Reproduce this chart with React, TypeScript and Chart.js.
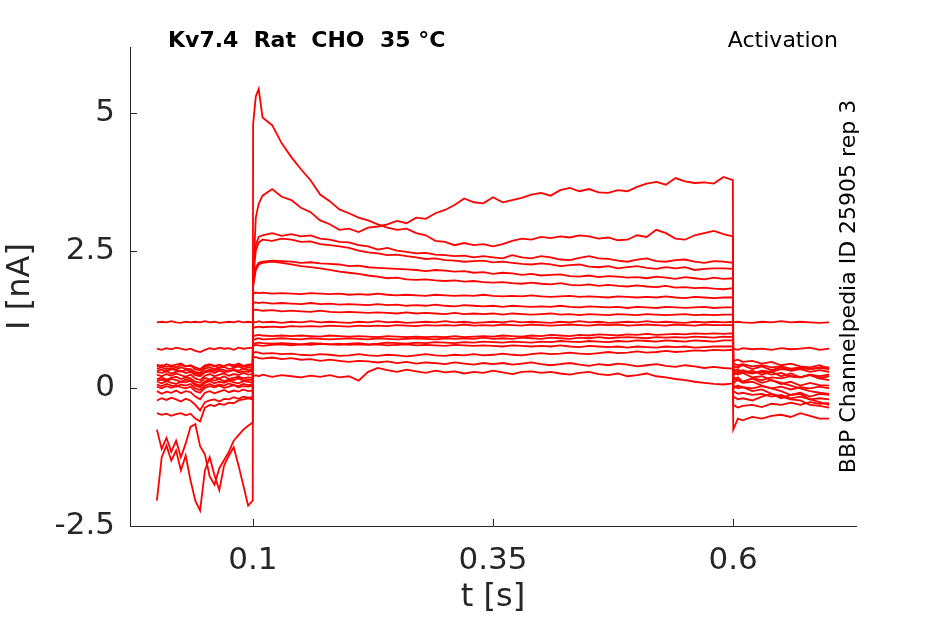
import React, { useEffect, useRef } from 'react';
import { Chart, registerables } from 'chart.js';

Chart.register(...registerables);

// time base (s): before step, during step, after step
const tPre = [0, 0.005, 0.01, 0.015, 0.02, 0.025, 0.03, 0.035, 0.04, 0.045, 0.05, 0.055, 0.06, 0.065, 0.07, 0.075, 0.08, 0.085, 0.09, 0.095, 0.0998];
const tPulse = [
  0.1002, 0.103, 0.106,
  0.11, 0.12, 0.13, 0.14, 0.15, 0.16, 0.17, 0.18, 0.19, 0.2,
  0.21, 0.22, 0.23, 0.24, 0.25, 0.26, 0.27, 0.28, 0.29, 0.3,
  0.31, 0.32, 0.33, 0.34, 0.35, 0.36, 0.37, 0.38, 0.39, 0.4,
  0.41, 0.42, 0.43, 0.44, 0.45, 0.46, 0.47, 0.48, 0.49, 0.5,
  0.51, 0.52, 0.53, 0.54, 0.55, 0.56, 0.57, 0.58, 0.59,
  0.5998,
];
const tPost = [0.6002, 0.605, 0.61, 0.62, 0.63, 0.64, 0.65, 0.66, 0.67, 0.68, 0.69, 0.7];

// current (nA), one row per sweep
const preSweeps = [
  [-2.04, -1.25, -1.04, -1.31, -1.13, -1.49, -1.22, -1.67, -2.04, -2.22, -1.49, -1.25, -1.58, -1.85, -1.4, -1.22, -1.07, -1.4, -1.76, -2.13, -2.04],
  [-0.75, -1.1, -0.9, -1.15, -0.95, -1.25, -1.0, -0.7, -0.65, -1.05, -1.2, -1.6, -1.75, -1.45, -1.3, -1.15, -0.95, -0.85, -0.75, -0.68, -0.62],
  [-0.45, -0.48, -0.46, -0.5, -0.47, -0.45, -0.49, -0.46, -0.55, -0.6, -0.35, -0.3, -0.32, -0.28, -0.3, -0.26, -0.27, -0.22, -0.2, -0.18, -0.2],
  [-0.22, -0.18, -0.21, -0.17, -0.2, -0.24, -0.19, -0.22, -0.3, -0.4, -0.25, -0.22, -0.2, -0.24, -0.19, -0.2, -0.16, -0.19, -0.15, -0.17, -0.16],
  [-0.05, -0.1, -0.06, -0.08, -0.04, -0.09, -0.05, -0.07, -0.15, -0.2, -0.08, -0.05, -0.09, -0.06, -0.03, -0.07, -0.04, -0.06, -0.02, -0.05, -0.04],
  [0.03, 0.0, 0.04, 0.01, 0.05, 0.02, 0.0, 0.03, -0.05, -0.08, 0.01, 0.04, 0.02, 0.05, 0.01, 0.03, 0.06, 0.02, 0.04, 0.03, 0.05],
  [0.12, 0.09, 0.13, 0.1, 0.08, 0.12, 0.11, 0.14, 0.05, 0.02, 0.1, 0.13, 0.09, 0.12, 0.1, 0.14, 0.11, 0.09, 0.13, 0.12, 0.1],
  [0.17, 0.2, 0.16, 0.19, 0.21, 0.17, 0.2, 0.18, 0.12, 0.1, 0.19, 0.16, 0.2, 0.18, 0.22, 0.17, 0.19, 0.21, 0.18, 0.2, 0.19],
  [0.25, 0.22, 0.26, 0.23, 0.27, 0.24, 0.21, 0.25, 0.18, 0.15, 0.23, 0.26, 0.22, 0.25, 0.27, 0.23, 0.26, 0.24, 0.28, 0.25, 0.26],
  [1.2, 1.21, 1.2, 1.22, 1.2, 1.19, 1.21, 1.2, 1.21, 1.2, 1.22, 1.2, 1.21, 1.19, 1.2, 1.21, 1.2, 1.22, 1.2, 1.21, 1.2],
  [0.3, 0.28, 0.31, 0.27, 0.3, 0.32, 0.28, 0.3, 0.24, 0.22, 0.29, 0.31, 0.28, 0.32, 0.29, 0.31, 0.33, 0.29, 0.31, 0.3, 0.32],
  [0.36, 0.38, 0.35, 0.37, 0.34, 0.38, 0.36, 0.35, 0.3, 0.28, 0.36, 0.38, 0.35, 0.37, 0.39, 0.35, 0.37, 0.4, 0.36, 0.38, 0.37],
  [0.43, 0.4, 0.44, 0.41, 0.43, 0.45, 0.4, 0.42, 0.38, 0.35, 0.42, 0.44, 0.41, 0.43, 0.4, 0.44, 0.42, 0.45, 0.41, 0.43, 0.44],
  [0.32, 0.34, 0.31, 0.35, 0.33, 0.3, 0.34, 0.32, 0.27, 0.25, 0.31, 0.34, 0.32, 0.35, 0.33, 0.31, 0.34, 0.32, 0.36, 0.33, 0.34],
  [0.72, 0.7, 0.73, 0.71, 0.74, 0.72, 0.7, 0.72, 0.68, 0.66, 0.7, 0.73, 0.71, 0.74, 0.72, 0.73, 0.7, 0.74, 0.72, 0.73, 0.74],
  [0.14, 0.16, 0.13, 0.17, 0.15, 0.12, 0.16, 0.14, 0.08, 0.05, 0.13, 0.16, 0.14, 0.17, 0.13, 0.16, 0.15, 0.18, 0.14, 0.16, 0.15],
  [0.07, 0.04, 0.08, 0.05, 0.03, 0.07, 0.05, 0.08, 0.0, -0.03, 0.05, 0.08, 0.04, 0.07, 0.05, 0.09, 0.06, 0.04, 0.08, 0.06, 0.07],
  [0.4, 0.42, 0.39, 0.41, 0.38, 0.42, 0.4, 0.41, 0.35, 0.33, 0.39, 0.42, 0.4, 0.38, 0.41, 0.43, 0.39, 0.42, 0.4, 0.41, 0.42],
];

const pulseSweeps = [
  [2.0, 3.1, 3.35,
    3.5, 3.62, 3.48, 3.42, 3.28, 3.2, 3.05, 2.98, 2.88, 2.9,
    2.84, 2.92, 2.94, 2.98, 3.04, 3.0, 3.1, 3.08, 3.18, 3.24,
    3.33, 3.45, 3.38, 3.36, 3.47, 3.38, 3.42, 3.46, 3.52, 3.55,
    3.5, 3.6, 3.64, 3.58, 3.62, 3.56, 3.55, 3.6, 3.58, 3.66,
    3.72, 3.75, 3.7, 3.82, 3.76, 3.73, 3.74, 3.72, 3.84,
    3.78],
  [4.8, 5.3, 5.44,
    4.92, 4.78, 4.45, 4.2, 3.98, 3.78, 3.52, 3.4, 3.25, 3.18,
    3.1, 3.05, 2.98, 2.92, 2.88, 2.9, 2.82, 2.78, 2.68, 2.66,
    2.6, 2.64, 2.6, 2.62, 2.58, 2.62, 2.68, 2.72, 2.7, 2.75,
    2.73, 2.76, 2.74, 2.78, 2.76, 2.72, 2.74, 2.69, 2.7, 2.78,
    2.75, 2.88, 2.82, 2.72, 2.7, 2.78, 2.82, 2.86, 2.8,
    2.76],
  [2.2, 2.6, 2.75,
    2.78, 2.82, 2.77, 2.8, 2.76, 2.78, 2.72, 2.7, 2.66, 2.65,
    2.6, 2.58, 2.52, 2.55, 2.5, 2.48, 2.45, 2.46, 2.43, 2.42,
    2.4, 2.41, 2.38, 2.4, 2.38, 2.36, 2.42, 2.38, 2.36, 2.4,
    2.38, 2.34, 2.33, 2.37, 2.4, 2.36, 2.35, 2.32, 2.3, 2.34,
    2.36, 2.31, 2.3, 2.33, 2.34, 2.3, 2.28, 2.31, 2.3,
    2.28],
  [2.0, 2.5, 2.65,
    2.7, 2.68, 2.72, 2.7, 2.66, 2.67, 2.62, 2.6, 2.58, 2.55,
    2.5, 2.47, 2.45, 2.42, 2.43, 2.4, 2.38, 2.35, 2.36, 2.33,
    2.32, 2.3, 2.31, 2.32, 2.29, 2.3, 2.28, 2.26, 2.25, 2.27,
    2.25, 2.22, 2.24, 2.25, 2.21, 2.2, 2.22, 2.18, 2.2, 2.22,
    2.19, 2.17, 2.2, 2.18, 2.2, 2.15, 2.17, 2.18, 2.18,
    2.17],
  [1.9, 2.2, 2.28,
    2.3, 2.32, 2.31, 2.3, 2.28, 2.29, 2.27, 2.26, 2.25, 2.22,
    2.23, 2.2, 2.19, 2.18, 2.17, 2.16, 2.15, 2.13, 2.15, 2.14,
    2.12, 2.13, 2.1, 2.11, 2.08, 2.1, 2.09, 2.06, 2.08, 2.05,
    2.06, 2.07, 2.04, 2.03, 2.05, 2.02, 2.04, 2.03, 2.01, 2.02,
    2.0, 2.03, 2.01, 1.99, 2.02, 2.0, 1.98, 2.01, 1.99,
    2.0],
  [1.85, 2.15, 2.25,
    2.28, 2.3, 2.28, 2.25, 2.22, 2.2, 2.18, 2.15, 2.12, 2.1,
    2.08, 2.05, 2.03, 2.0, 2.01, 1.98, 1.97, 1.98, 1.96, 1.95,
    1.96, 1.94, 1.95, 1.93, 1.92, 1.93, 1.91, 1.9, 1.92, 1.9,
    1.89, 1.91, 1.88, 1.87, 1.89, 1.86, 1.88, 1.86, 1.85, 1.87,
    1.85, 1.84, 1.86, 1.83, 1.84, 1.82, 1.83, 1.81, 1.8,
    1.82],
  [1.72, 1.74, 1.73,
    1.74, 1.72, 1.73, 1.72, 1.71, 1.73, 1.72, 1.71, 1.72, 1.7,
    1.71, 1.7, 1.72, 1.7, 1.69, 1.7, 1.69, 1.68, 1.7, 1.69,
    1.68, 1.69, 1.68, 1.7, 1.68, 1.67, 1.68, 1.67, 1.69, 1.67,
    1.66, 1.67, 1.68, 1.66, 1.67, 1.66, 1.65, 1.67, 1.66, 1.65,
    1.66, 1.65, 1.67, 1.65, 1.64, 1.66, 1.65, 1.64, 1.65,
    1.65],
  [1.55, 1.56, 1.55,
    1.56, 1.54, 1.55, 1.54, 1.53, 1.55, 1.53, 1.54, 1.52, 1.53,
    1.52, 1.51, 1.53, 1.51, 1.52, 1.5, 1.51, 1.5, 1.52, 1.5,
    1.49, 1.51, 1.5, 1.49, 1.5, 1.48, 1.5, 1.49, 1.48, 1.49,
    1.48, 1.5, 1.48, 1.47, 1.49, 1.48, 1.47, 1.48, 1.46, 1.48,
    1.47, 1.46, 1.48, 1.47, 1.46, 1.47, 1.48, 1.46, 1.47,
    1.47],
  [1.42, 1.43, 1.42,
    1.41, 1.42, 1.4, 1.41, 1.4, 1.39, 1.41, 1.39, 1.38, 1.39,
    1.38, 1.37, 1.38, 1.37, 1.36, 1.38, 1.36, 1.37, 1.36, 1.35,
    1.37, 1.35, 1.36, 1.35, 1.36, 1.34, 1.36, 1.35, 1.34, 1.35,
    1.36, 1.34, 1.35, 1.33, 1.35, 1.34, 1.33, 1.35, 1.34, 1.33,
    1.35, 1.34, 1.33, 1.34, 1.35, 1.33, 1.34, 1.33, 1.34,
    1.34],
  [1.21, 1.2, 1.22,
    1.2, 1.21, 1.19, 1.21, 1.2, 1.22, 1.2, 1.21, 1.2, 1.19,
    1.21, 1.2, 1.22, 1.2, 1.21, 1.19, 1.2, 1.21, 1.2, 1.22,
    1.2, 1.21, 1.19, 1.2, 1.21, 1.2, 1.22, 1.2, 1.21, 1.2,
    1.19, 1.21, 1.2, 1.22, 1.2, 1.21, 1.19, 1.2, 1.21, 1.2,
    1.22, 1.2, 1.21, 1.2, 1.19, 1.21, 1.2, 1.21, 1.2,
    1.21],
  [1.1, 1.11, 1.12,
    1.11, 1.12, 1.11, 1.13, 1.12, 1.13, 1.12, 1.14, 1.13, 1.12,
    1.14, 1.13, 1.14, 1.13, 1.15, 1.14, 1.13, 1.15, 1.14, 1.15,
    1.14, 1.16, 1.14, 1.15, 1.14, 1.16, 1.15, 1.14, 1.16, 1.15,
    1.14, 1.15, 1.16, 1.15, 1.14, 1.16, 1.15, 1.16, 1.14, 1.15,
    1.16, 1.15, 1.14, 1.16, 1.15, 1.14, 1.16, 1.15, 1.15,
    1.15],
  [0.95, 0.96, 0.97,
    0.96, 0.95, 0.96, 0.95, 0.96, 0.95, 0.94, 0.96, 0.95, 0.94,
    0.95, 0.94, 0.93, 0.95, 0.94, 0.93, 0.94, 0.93, 0.94, 0.93,
    0.95, 0.93, 0.94, 0.95, 0.94, 0.96, 0.95, 0.94, 0.96, 0.95,
    0.97, 0.96, 0.95, 0.97, 0.96, 0.98, 0.97, 0.96, 0.98, 0.97,
    0.99, 0.97, 0.98, 0.99, 0.98, 1.0, 0.99, 1.0, 0.99,
    1.0],
  [0.88, 0.9, 0.91,
    0.89, 0.9, 0.91, 0.9, 0.89, 0.91, 0.9, 0.89, 0.9, 0.91,
    0.9, 0.89, 0.91, 0.9, 0.89, 0.9, 0.91, 0.9, 0.89, 0.91,
    0.9, 0.91, 0.9, 0.92, 0.9, 0.91, 0.9, 0.92, 0.91, 0.9,
    0.92, 0.91, 0.9, 0.92, 0.91, 0.93, 0.91, 0.92, 0.93, 0.92,
    0.91, 0.93, 0.92, 0.93, 0.92, 0.94, 0.93, 0.92, 0.94,
    0.93],
  [0.77, 0.79, 0.78,
    0.77, 0.79, 0.8, 0.78, 0.8, 0.79, 0.81, 0.8, 0.79, 0.81,
    0.82, 0.8, 0.81, 0.83, 0.82, 0.81, 0.83, 0.82, 0.84, 0.83,
    0.82, 0.84, 0.83, 0.85, 0.84, 0.83, 0.85, 0.84, 0.83, 0.85,
    0.84, 0.86, 0.85, 0.84, 0.86, 0.85, 0.84, 0.86, 0.85, 0.87,
    0.86, 0.85, 0.87, 0.86, 0.85, 0.87, 0.86, 0.85, 0.87,
    0.87],
  [0.8, 0.82, 0.83,
    0.82, 0.81, 0.82, 0.81, 0.8, 0.82, 0.81, 0.8, 0.81, 0.79,
    0.8, 0.79, 0.8, 0.78, 0.79, 0.8, 0.78, 0.79, 0.78, 0.77,
    0.79, 0.78, 0.77, 0.78, 0.77, 0.76, 0.78, 0.77, 0.76, 0.77,
    0.76, 0.78, 0.76, 0.75, 0.77, 0.76, 0.75, 0.76, 0.74, 0.76,
    0.75, 0.74, 0.76, 0.75, 0.76, 0.74, 0.75, 0.76, 0.76,
    0.76],
  [0.64, 0.66, 0.65,
    0.63, 0.64, 0.62, 0.63, 0.61, 0.6, 0.62, 0.61, 0.59, 0.6,
    0.62, 0.6, 0.59, 0.61, 0.6, 0.58, 0.6, 0.62, 0.6, 0.59,
    0.61, 0.6, 0.62, 0.6, 0.61, 0.63, 0.61, 0.6, 0.62, 0.64,
    0.62, 0.63, 0.65, 0.63, 0.62, 0.64, 0.66, 0.64, 0.65, 0.67,
    0.65, 0.66, 0.68, 0.66, 0.67, 0.69, 0.68, 0.7, 0.69,
    0.7],
  [0.56, 0.57, 0.55,
    0.54, 0.56, 0.53, 0.55, 0.52, 0.53, 0.5, 0.52, 0.5, 0.48,
    0.5, 0.49, 0.47, 0.49, 0.46, 0.48, 0.45, 0.47, 0.46, 0.44,
    0.47, 0.45, 0.43, 0.46, 0.44, 0.46, 0.43, 0.45, 0.47, 0.44,
    0.42, 0.44, 0.46, 0.43, 0.41, 0.44, 0.42, 0.45, 0.43, 0.4,
    0.42, 0.44, 0.41, 0.39, 0.42, 0.4, 0.37, 0.39, 0.37,
    0.36],
  [0.22, 0.24, 0.22,
    0.25, 0.21, 0.24, 0.22, 0.2, 0.23, 0.21, 0.24, 0.2, 0.22,
    0.14, 0.3, 0.37, 0.33, 0.3, 0.34, 0.31, 0.28, 0.32, 0.29,
    0.31, 0.27, 0.3, 0.28, 0.32, 0.29, 0.26, 0.3, 0.31, 0.28,
    0.3, 0.27, 0.25, 0.28, 0.3, 0.26, 0.24, 0.27, 0.22, 0.24,
    0.27, 0.22, 0.2, 0.17, 0.15, 0.12, 0.1, 0.08, 0.07,
    0.09],
];

const postSweeps = [
  [0.3, 0.35, 0.28, 0.32, 0.25, 0.3, 0.22, 0.27, 0.2, 0.25, 0.18, 0.22],
  [0.5, 0.52, 0.48, 0.5, 0.45, 0.48, 0.42, 0.45, 0.4, 0.38, 0.42, 0.36],
  [0.2, 0.15, 0.1, 0.12, 0.05, 0.0, -0.05, -0.12, -0.1, -0.2, -0.25, -0.3],
  [0.3, 0.25, 0.28, 0.2, 0.22, 0.15, 0.1, 0.05, 0.0, -0.05, -0.08, -0.1],
  [0.05, 0.0, 0.02, -0.05, -0.02, -0.1, -0.15, -0.2, -0.22, -0.3, -0.32, -0.35],
  [-0.15, -0.2, -0.18, -0.22, -0.15, -0.1, -0.18, -0.12, -0.08, -0.15, -0.1, -0.12],
  [0.4, 0.38, 0.42, 0.35, 0.4, 0.33, 0.38, 0.32, 0.35, 0.3, 0.33, 0.3],
  [0.15, 0.2, 0.12, 0.18, 0.1, 0.15, 0.08, 0.12, 0.05, 0.1, 0.06, 0.05],
  [0.35, 0.3, 0.33, 0.28, 0.3, 0.25, 0.28, 0.22, 0.2, 0.24, 0.18, 0.15],
  [1.2, 1.21, 1.2, 1.19, 1.21, 1.2, 1.22, 1.2, 1.21, 1.2, 1.19, 1.2],
  [0.1, 0.15, 0.12, 0.18, 0.15, 0.2, 0.18, 0.22, 0.2, 0.25, 0.22, 0.25],
  [0.45, 0.42, 0.44, 0.4, 0.42, 0.38, 0.4, 0.36, 0.38, 0.35, 0.37, 0.35],
  [0.0, 0.05, 0.02, 0.0, 0.04, 0.0, 0.03, -0.02, 0.02, 0.0, 0.03, 0.0],
  [0.25, 0.28, 0.3, 0.27, 0.32, 0.3, 0.35, 0.33, 0.37, 0.35, 0.38, 0.38],
  [0.72, 0.7, 0.73, 0.71, 0.72, 0.7, 0.73, 0.71, 0.72, 0.74, 0.7, 0.72],
  [-0.05, -0.1, -0.08, -0.12, -0.1, -0.15, -0.12, -0.18, -0.15, -0.2, -0.18, -0.2],
  [-0.3, -0.35, -0.32, -0.3, -0.34, -0.28, -0.3, -0.26, -0.3, -0.25, -0.28, -0.27],
  [-0.75, -0.55, -0.58, -0.52, -0.55, -0.5, -0.48, -0.52, -0.45, -0.5, -0.55, -0.55],
];

const xTicks = [0.1, 0.35, 0.6];
const yTicks = [-2.5, 0, 2.5, 5];

const AXIS = '#262626';
const FONT = "'DejaVu Sans', sans-serif";

const textPlugin = {
  id: 'matlabText',
  afterDraw(chart: Chart) {
    const { ctx, chartArea, scales } = chart;
    const xs = scales.x;
    const ys = scales.y;
    ctx.save();
    // inward tick marks
    ctx.strokeStyle = AXIS;
    ctx.lineWidth = 1;
    ctx.beginPath();
    xTicks.forEach((v) => {
      const px = Math.round(xs.getPixelForValue(v)) + 0.5;
      ctx.moveTo(px, chartArea.bottom);
      ctx.lineTo(px, chartArea.bottom - 7);
    });
    yTicks.forEach((v) => {
      const py = Math.round(ys.getPixelForValue(v)) + 0.5;
      ctx.moveTo(chartArea.left, py);
      ctx.lineTo(chartArea.left + 7, py);
    });
    ctx.stroke();

    ctx.fillStyle = '#000000';
    ctx.textBaseline = 'alphabetic';
    ctx.font = `bold 22px ${FONT}`;
    ctx.textAlign = 'left';
    ctx.fillText('Kv7.4  Rat  CHO  35 °C', 168, 47);
    ctx.font = `22px ${FONT}`;
    ctx.textAlign = 'right';
    ctx.fillText('Activation', 838, 47);

    ctx.fillStyle = AXIS;
    ctx.font = `32px ${FONT}`;
    ctx.textAlign = 'center';
    ctx.textBaseline = 'middle';
    ctx.fillText('t [s]', (chartArea.left + chartArea.right) / 2, 598);

    const midY = (chartArea.top + chartArea.bottom) / 2;
    ctx.save();
    ctx.translate(21, midY);
    ctx.rotate(-Math.PI / 2);
    ctx.fillText('I [nA]', 0, 0);
    ctx.restore();

    ctx.fillStyle = '#000000';
    ctx.font = `22px ${FONT}`;
    ctx.save();
    ctx.translate(849, midY);
    ctx.rotate(-Math.PI / 2);
    ctx.fillText('BBP Channelpedia ID 25905 rep 3', 0, 0);
    ctx.restore();

    ctx.restore();
  },
};

const App: React.FC = () => {
  const canvasRef = useRef<HTMLCanvasElement>(null);
  const chartRef = useRef<Chart | null>(null);

  useEffect(() => {
    if (!canvasRef.current) return;
    const times = [...tPre, ...tPulse, ...tPost];
    const datasets = preSweeps.map((pre, i) => {
      const values = [...pre, ...pulseSweeps[i], ...postSweeps[i]];
      return {
        label: `sweep ${i + 1}`,
        data: values.map((y, k) => ({ x: times[k], y })),
        borderColor: '#ff0000',
        borderWidth: 1.8,
        pointRadius: 0,
        tension: 0,
        fill: false,
      };
    });

    chartRef.current = new Chart(canvasRef.current, {
      type: 'line',
      data: { datasets },
      options: {
        animation: false,
        responsive: true,
        maintainAspectRatio: false,
        layout: { padding: { top: 47, right: 89, left: 0, bottom: 0 } },
        plugins: { legend: { display: false }, tooltip: { enabled: false } },
        scales: {
          x: {
            type: 'linear',
            min: -0.028,
            max: 0.728,
            grid: { display: false, drawTicks: false },
            border: { display: true, color: AXIS, width: 1 },
            afterBuildTicks: (s: any) => {
              s.ticks = xTicks.map((v) => ({ value: v }));
            },
            afterFit: (s: any) => {
              s.height = 98;
            },
            ticks: {
              color: AXIS,
              font: { family: FONT, size: 31 },
              padding: 16,
              maxRotation: 0,
              callback: (v: any) => String(v),
            },
          },
          y: {
            type: 'linear',
            min: -2.5,
            max: 6.2,
            grid: { display: false, drawTicks: false },
            border: { display: true, color: AXIS, width: 1 },
            afterBuildTicks: (s: any) => {
              s.ticks = yTicks.map((v) => ({ value: v }));
            },
            afterFit: (s: any) => {
              s.width = 130;
            },
            ticks: {
              color: AXIS,
              font: { family: FONT, size: 31 },
              padding: 15,
              callback: (v: any) => String(v),
            },
          },
        },
      },
      plugins: [textPlugin],
    });

    return () => {
      chartRef.current?.destroy();
      chartRef.current = null;
    };
  }, []);

  return (
    <div style={{ position: 'absolute', left: 0, top: 0, width: 945, height: 624, background: '#ffffff' }}>
      <canvas ref={canvasRef} />
    </div>
  );
};

export default App;
